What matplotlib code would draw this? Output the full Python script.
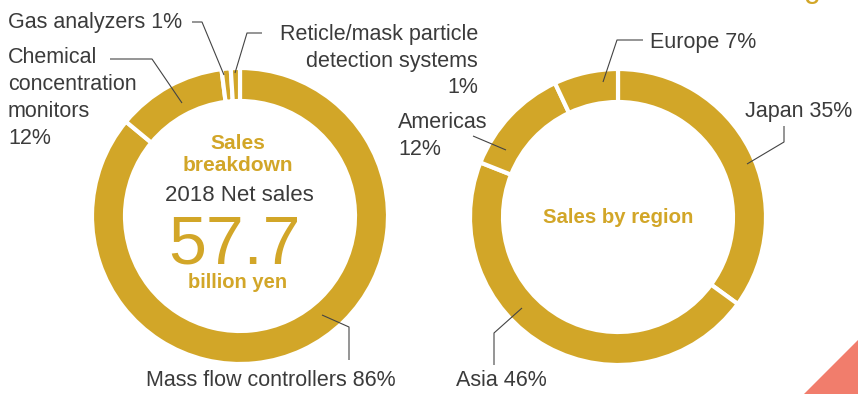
import numpy as np
import matplotlib
matplotlib.use('Agg')
import matplotlib.pyplot as plt
from matplotlib.patches import Polygon

plt.rcParams['font.family'] = ['Liberation Sans', 'DejaVu Sans']

# 데이터
breakdown_names = ['Mass flow controllers', 'Chemical\nconcentration\nmonitors', 'Gas analyzers',
                   'Reticle/mask particle\ndetection systems']
breakdown_pct = [86, 12, 1, 1]
region_names = ['Japan', 'Asia', 'Americas', 'Europe']
region_pct = [35, 46, 12, 7]
net_sales = '57.7'
net_year = 2018

GOLD = '#D2A628'
DARK = '#3b3b3b'
W, H = 858, 394
FS = 15.5

def Y(y):
    # 픽셀 좌표(위에서 아래) -> 데이터 좌표
    return H - y

fig = plt.figure(figsize=(W / 100, H / 100), dpi=100)
ax = fig.add_axes([0, 0, 1, 1])

wp = dict(width=33, edgecolor='white', linewidth=3)
ax.pie(breakdown_pct, colors=[GOLD] * 4, startangle=90, counterclock=False,
       center=(240, Y(216)), radius=148, wedgeprops=wp, frame=True)
ax.pie(region_pct, colors=[GOLD] * 4, startangle=90, counterclock=False,
       center=(618, Y(217)), radius=148, wedgeprops=wp, frame=True)
ax.set_xlim(0, W)
ax.set_ylim(0, H)
ax.set_aspect('auto')
ax.axis('off')

def leader(pts):
    xs = [p[0] for p in pts]
    ys = [Y(p[1]) for p in pts]
    ax.plot(xs, ys, color='#444444', lw=0.8, solid_capstyle='butt')

def label(x, y, s, ha='left', va='center', **kw):
    ax.text(x, Y(y), s, ha=ha, va=va, fontsize=FS, color=DARK, linespacing=1.37, **kw)

# 왼쪽 라벨
label(146, 381, f'{breakdown_names[0]} {breakdown_pct[0]}%')
leader([(322, 315), (349, 327), (349, 360)])
label(8, 98, f'{breakdown_names[1]}\n{breakdown_pct[1]}%')
leader([(110, 59), (152, 59), (182, 103)])
label(8, 22, f'{breakdown_names[2]} {breakdown_pct[2]}%')
leader([(192, 22), (202, 22), (224, 75)])
label(478, 61, f'{breakdown_names[3]}\n{breakdown_pct[3]}%', ha='right', multialignment='right')
leader([(262, 33), (247, 33), (235, 73)])

# 오른쪽 라벨
label(745, 111, f'{region_names[0]} {region_pct[0]}%')
leader([(784, 126), (784, 142), (747, 164)])
label(456, 381, f'{region_names[1]} {region_pct[1]}%')
leader([(522, 308), (494, 333), (494, 365)])
label(398, 136, f'{region_names[2]}\n{region_pct[2]}%')
leader([(473, 136), (506, 150)])
label(650, 42, f'{region_names[3]} {region_pct[3]}%')
leader([(643, 40), (617, 40), (603, 82)])

# 가운데 텍스트
ax.text(238, Y(154), 'Sales\nbreakdown', ha='center', va='center', fontsize=15,
        color=GOLD, fontweight='bold', linespacing=1.2)
ax.text(239, Y(195), f'{net_year} Net sales', ha='center', va='center', fontsize=16, color=DARK)
ax.text(234, Y(263), net_sales, ha='center', va='baseline', fontsize=49, color=GOLD)
ax.text(238, Y(283), 'billion yen', ha='center', va='center', fontsize=14.5,
        color=GOLD, fontweight='bold')
ax.text(618, Y(217), 'Sales by region', ha='center', va='center', fontsize=14.7,
        color=GOLD, fontweight='bold')

# 잘린 제목 조각과 모서리 삼각형
ax.text(812, Y(-3), 'g', ha='center', va='baseline', fontsize=22, color=GOLD, clip_on=False)
ax.add_patch(Polygon([(858, Y(340)), (858, Y(394)), (804, Y(394))], closed=True,
                     facecolor='#F17D6C', edgecolor='none'))

fig.savefig('out.png', dpi=100)
